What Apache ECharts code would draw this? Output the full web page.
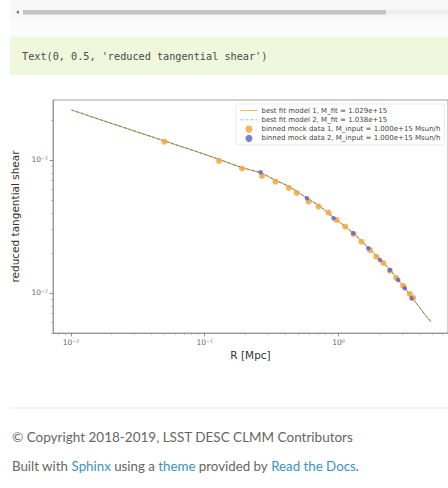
<!DOCTYPE html>
<html><head><meta charset="utf-8">
<script src="https://cdn.jsdelivr.net/npm/echarts@6/dist/echarts.min.js"></script>
<style>html,body{margin:0;padding:0;background:#fff;}#c{width:448px;height:488px;}</style>
</head><body><div id="c"></div>
<script>
// ---- data ----
const modelR = [0.0101, 0.0164, 0.0275, 0.050, 0.091, 0.128, 0.193, 0.263, 0.340, 0.425, 0.578, 0.710, 0.918, 1.108, 1.293, 1.483, 1.671, 2.042, 2.423, 2.793, 3.132, 3.490, 3.934, 4.436, 4.889];
const model1Y = [0.2377, 0.2016, 0.1696, 0.1389, 0.1138, 0.1009, 0.0871, 0.0799, 0.0701, 0.0632, 0.0518, 0.0455, 0.0369, 0.0319, 0.0280, 0.0246, 0.0218, 0.01786, 0.01489, 0.01253, 0.01091, 0.00933, 0.00805, 0.00684, 0.00608];
const model2Y = [0.2380, 0.2018, 0.1698, 0.1390, 0.1139, 0.1010, 0.0872, 0.0800, 0.0702, 0.0633, 0.0519, 0.0456, 0.0370, 0.0320, 0.0281, 0.0247, 0.0219, 0.01790, 0.01492, 0.01256, 0.01094, 0.00936, 0.00808, 0.00687, 0.00610];
const data1R = [0.050, 0.128, 0.190, 0.268, 0.338, 0.425, 0.487, 0.598, 0.710, 0.843, 0.966, 1.121, 1.293, 1.483, 1.721, 1.916, 2.161, 2.423, 2.70, 3.043, 3.413, 3.611];
const data1Y = [0.1373, 0.0983, 0.0863, 0.0758, 0.0687, 0.0616, 0.0565, 0.0486, 0.0446, 0.0402, 0.0354, 0.0315, 0.0278, 0.0243, 0.0210, 0.01875, 0.01681, 0.01472, 0.01297, 0.01129, 0.00983, 0.00917];
const data2R = [0.262, 0.581, 0.918, 1.29, 1.67, 2.04, 2.42, 2.79, 3.13, 3.51];
const data2Y = [0.0808, 0.0515, 0.0365, 0.0281, 0.0217, 0.0177, 0.0149, 0.01253, 0.01084, 0.00912];
const seriesNames = ['best fit model 1, M_fit = 1.029e+15', 'best fit model 2, M_fit = 1.038e+15', 'binned mock data 1, M_input = 1.000e+15 Msun/h', 'binned mock data 2, M_input = 1.000e+15 Msun/h'];
const xMajor = [0.01, 0.1, 1];
const xMajorLabels = ['10\u207B\u00B2', '10\u207B\u00B9', '10\u2070'];
const yMajor = [0.01, 0.1];
const yMajorLabels = ['10\u207B\u00B2', '10\u207B\u00B9'];
const xMinor = [0.008, 0.009, 0.02, 0.03, 0.04, 0.05, 0.06, 0.07, 0.08, 0.09, 0.2, 0.3, 0.4, 0.5, 0.6, 0.7, 0.8, 0.9, 2, 3, 4, 5, 6];
const yMinor = [0.005, 0.006, 0.007, 0.008, 0.009, 0.02, 0.03, 0.04, 0.05, 0.06, 0.07, 0.08, 0.09, 0.2];
const xLimits = [0.00735, 6.58];
const yLimits = [0.005, 0.2825];

const zip = (a, b) => a.map((v, i) => [v, b[i]]);
const lab = (vals, labels) => v => { const i = vals.findIndex(t => Math.abs(t - v) / t < 1e-6); return i >= 0 ? labels[i] : ''; };
const axisCol = '#8a8a8a';
const tickFont = { fontSize: 7.5, color: '#666', fontFamily: 'DejaVu Sans' };
const hiddenSym = { color: 'rgba(0,0,0,0)', borderColor: 'rgba(0,0,0,0)', borderWidth: 0, opacity: 0 };

const chart = echarts.init(document.getElementById('c'), null, { renderer: 'svg' });
chart.setOption({
  backgroundColor: '#ffffff',
  animation: false,
  grid: { left: 53, top: 100, width: 397, height: 233, show: true, borderColor: axisCol, borderWidth: 0.8, containLabel: false },
  xAxis: [
    { type: 'log', logBase: 10, min: xLimits[0], max: xLimits[1], position: 'bottom',
      name: 'R [Mpc]', nameLocation: 'middle', nameGap: 16,
      nameTextStyle: { fontSize: 10.5, color: '#333', fontFamily: 'DejaVu Sans' },
      axisLine: { show: true, lineStyle: { color: axisCol, width: 0.8 } },
      axisTick: { show: true, inside: false, length: 3.5, customValues: xMajor, lineStyle: { color: '#777', width: 0.8 } },
      axisLabel: { show: true, customValues: xMajor, margin: 5, formatter: lab(xMajor, xMajorLabels), ...tickFont },
      splitLine: { show: false } },
    { type: 'log', logBase: 10, min: xLimits[0], max: xLimits[1], position: 'bottom',
      axisLine: { show: false },
      axisTick: { show: true, inside: false, length: 2, customValues: xMinor, lineStyle: { color: '#999', width: 0.6 } },
      axisLabel: { show: false }, splitLine: { show: false } }
  ],
  yAxis: [
    { type: 'log', logBase: 10, min: yLimits[0], max: yLimits[1], position: 'left',
      name: 'reduced tangential shear', nameLocation: 'middle', nameGap: 27, nameRotate: 90,
      nameTextStyle: { fontSize: 10.5, color: '#333', fontFamily: 'DejaVu Sans' },
      axisLine: { show: true, lineStyle: { color: axisCol, width: 0.8 } },
      axisTick: { show: true, inside: false, length: 3.5, customValues: yMajor, lineStyle: { color: '#777', width: 0.8 } },
      axisLabel: { show: true, customValues: yMajor, margin: 5, formatter: lab(yMajor, yMajorLabels), ...tickFont },
      splitLine: { show: false } },
    { type: 'log', logBase: 10, min: yLimits[0], max: yLimits[1], position: 'left',
      axisLine: { show: false },
      axisTick: { show: true, inside: false, length: 2, customValues: yMinor, lineStyle: { color: '#999', width: 0.6 } },
      axisLabel: { show: false }, splitLine: { show: false } }
  ],
  legend: {
    orient: 'vertical', left: 236, top: 104, padding: [3, 4, 3, 4], itemGap: 2.3,
    itemWidth: 17, itemHeight: 7, backgroundColor: 'rgba(255,255,255,0.8)',
    borderColor: '#dcdcdc', borderWidth: 0.6, borderRadius: 2,
    textStyle: { fontSize: 7, lineHeight: 7, color: '#444', fontFamily: 'DejaVu Sans', padding: [0, 0, 0, -1] },
    data: [
      { name: seriesNames[0], itemStyle: hiddenSym, lineStyle: { color: '#eab64c', width: 0.9 } },
      { name: seriesNames[1], itemStyle: hiddenSym, lineStyle: { color: '#86bcd4', width: 0.9, type: [3, 2] } },
      { name: seriesNames[2], icon: 'circle' },
      { name: seriesNames[3], icon: 'circle' }
    ]
  },
  series: [
    { name: seriesNames[0], type: 'line', xAxisIndex: 0, yAxisIndex: 0, data: zip(modelR, model1Y),
      showSymbol: false, symbol: 'none', smooth: 0.3, lineStyle: { color: '#d99a2b', width: 1 }, itemStyle: { color: '#e3a93d' }, z: 2 },
    { name: seriesNames[1], type: 'line', xAxisIndex: 0, yAxisIndex: 0, data: zip(modelR, model2Y),
      showSymbol: false, symbol: 'none', smooth: 0.3, lineStyle: { color: '#6a8496', width: 1, type: [3, 2] }, itemStyle: { color: '#6aaecb' }, z: 3 },
    { name: seriesNames[2], type: 'scatter', xAxisIndex: 0, yAxisIndex: 0, data: zip(data1R, data1Y),
      symbol: 'circle', symbolSize: 6, itemStyle: { color: '#f4a63a', opacity: 0.85 }, z: 4 },
    { name: seriesNames[3], type: 'scatter', xAxisIndex: 0, yAxisIndex: 0, data: zip(data2R, data2Y),
      symbol: 'circle', symbolSize: 4.5, itemStyle: { color: '#5b5fc7', opacity: 0.8 }, z: 5 }
  ],
  graphic: [
    { type: 'rect', shape: { x: 10, y: 0, width: 438, height: 19 }, style: { fill: '#f8f8f8' }, silent: true, z: -10 },
    { type: 'rect', shape: { x: 23, y: 10, width: 363, height: 4.5 }, style: { fill: '#c3c3c3' }, silent: true, z: -9 },
    { type: 'rect', shape: { x: 386, y: 10, width: 62, height: 4.5 }, style: { fill: '#eeeeee' }, silent: true, z: -9 },
    { type: 'polygon', shape: { points: [[16, 12.2], [19, 10.3], [19, 14.1]] }, style: { fill: '#777' }, silent: true, z: -9 },
    { type: 'rect', shape: { x: 10, y: 19, width: 438, height: 18 }, style: { fill: '#fbfbfb' }, silent: true, z: -10 },
    { type: 'rect', shape: { x: 10, y: 37, width: 438, height: 38 }, style: { fill: '#eff7dc' }, silent: true, z: -10 },
    { type: 'text', x: 22, y: 56, style: { text: "Text(0, 0.5, 'reduced tangential shear')", font: '10.2px "DejaVu Sans Mono"', fill: '#4a4a4a', verticalAlign: 'middle' }, silent: true },
    { type: 'line', shape: { x1: 10, y1: 408, x2: 448, y2: 408 }, style: { stroke: '#e5e7e8', lineWidth: 1 }, silent: true },
    { type: 'text', x: 12, y: 437, style: { text: '\u00A9 Copyright 2018-2019, LSST DESC CLMM Contributors', font: '13.5px Lato', fill: '#666', verticalAlign: 'middle' }, silent: true },
    { type: 'text', x: 12, y: 466, style: { text: 'Built with {a|Sphinx} using a {a|theme} provided by {a|Read the Docs}.', font: '13.3px Lato', fill: '#666', verticalAlign: 'middle', rich: { a: { fill: '#3a93c0', font: '13.3px Lato' } } }, silent: true }
  ]
});
</script></body></html>
